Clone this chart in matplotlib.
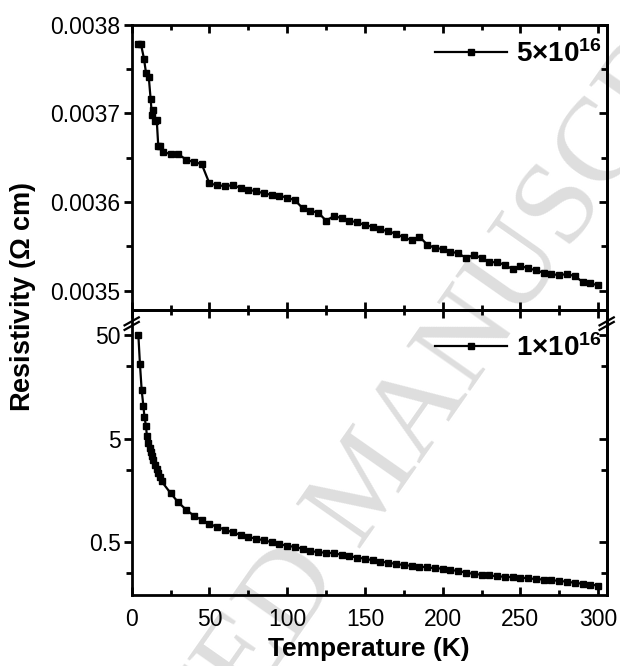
import matplotlib
matplotlib.use('Agg')
import matplotlib.pyplot as plt
from matplotlib.ticker import MultipleLocator, FixedLocator, FormatStrFormatter, NullFormatter

plt.rcParams['font.family'] = ['Liberation Sans', 'DejaVu Sans']
plt.rcParams['mathtext.fontset'] = 'custom'
plt.rcParams['mathtext.rm'] = 'Liberation Sans'
plt.rcParams['mathtext.bf'] = 'Liberation Sans:bold'

# 5x10^16 sample (linear scale, upper panel)
temp_hi = [4.3, 6.0, 7.9, 9.2, 11.0, 12.2, 13.0, 14.0, 15.0, 16.1, 17.1, 18.5, 19.9,
           25, 30, 35, 40, 45, 50, 55, 60, 65, 70, 75, 80, 85, 90, 95, 100,
           105, 110, 115, 120, 125, 130, 135, 140, 145, 150, 155, 160, 165, 170,
           175, 180, 185, 190, 195, 200, 205, 210, 215, 220, 225, 230, 235, 240,
           245, 250, 255, 260, 265, 270, 275, 280, 285, 290, 295, 300]
rho_hi = [0.003779, 0.003778, 0.003762, 0.003746, 0.003741, 0.003716, 0.003698,
          0.003704, 0.003691, 0.003693, 0.003663, 0.003663, 0.003657,
          0.003654, 0.003654, 0.003648, 0.003645, 0.003643, 0.003621, 0.003619,
          0.003618, 0.003619, 0.003616, 0.003614, 0.003612, 0.003610, 0.003608,
          0.003607, 0.003605, 0.003602, 0.003593, 0.003590, 0.003588, 0.003579,
          0.003584, 0.003582, 0.003579, 0.003577, 0.003574, 0.003572, 0.003569,
          0.003567, 0.003564, 0.003560, 0.003557, 0.003561, 0.003552, 0.003548,
          0.003547, 0.003544, 0.003542, 0.003537, 0.003540, 0.003537, 0.003532,
          0.003532, 0.003529, 0.003524, 0.003528, 0.003525, 0.003523, 0.003520,
          0.003519, 0.003517, 0.003519, 0.003516, 0.003510, 0.003508, 0.003506]

# 1x10^16 sample (log scale, lower panel)
temp_lo = [4.3, 5.3, 6.4, 7.5, 8.2, 9.2, 9.8, 10.7, 11.5, 12.2, 13.1, 13.9, 15.0,
           16.1, 17.1, 18.2, 19.3,
           25, 30, 35, 40, 45, 50, 55, 60, 65, 70, 75, 80, 85, 90, 95, 100,
           105, 110, 115, 120, 125, 130, 135, 140, 145, 150, 155, 160, 165, 170,
           175, 180, 185, 190, 195, 200, 205, 210, 215, 220, 225, 230, 235, 240,
           245, 250, 255, 260, 265, 270, 275, 280, 285, 290, 295, 300]
rho_lo = [50, 26.6, 14.9, 10.4, 8.2, 6.6, 5.3, 4.5, 4.06, 3.68, 3.37, 3.08, 2.80,
          2.55, 2.33, 2.11, 1.93,
          1.49, 1.21, 1.03, 0.90, 0.82, 0.75, 0.70, 0.66, 0.62, 0.59, 0.56, 0.54,
          0.52, 0.50, 0.48, 0.46, 0.45, 0.43, 0.41, 0.40, 0.395, 0.39, 0.378,
          0.366, 0.355, 0.345, 0.334, 0.324, 0.316, 0.308, 0.300, 0.295, 0.290,
          0.285, 0.280, 0.277, 0.270, 0.262, 0.254, 0.246, 0.242, 0.238, 0.234,
          0.231, 0.229, 0.227, 0.223, 0.220, 0.217, 0.214, 0.211, 0.207, 0.202,
          0.198, 0.194, 0.190]

fig = plt.figure(figsize=(6.2, 6.66), dpi=100)
ax1 = fig.add_axes([0.2124, 0.5345, 0.7661, 0.428])
ax2 = fig.add_axes([0.2124, 0.1066, 0.7661, 0.428], sharex=ax1)

# faint watermark behind everything
fig.text(0.598, 0.273, 'ACCEPTED MANUSCRIPT', family='Liberation Serif', fontsize=86,
         color='#dedede', rotation=55, ha='center', va='center', zorder=-5)

for ax in (ax1, ax2):
    ax.set_facecolor('none')
    for s in ax.spines.values():
        s.set_linewidth(2)
    ax.xaxis.set_major_locator(MultipleLocator(50))
    ax.xaxis.set_minor_locator(MultipleLocator(25))
    ax.tick_params(axis='x', which='both', direction='in', top=True, bottom=True, width=2)
    ax.tick_params(axis='x', which='major', length=6)
    ax.tick_params(axis='x', which='minor', length=3.5)
    ax.tick_params(axis='y', which='both', direction='out', right=False, width=2)
    ax.tick_params(axis='y', which='major', length=6, labelsize=16.5, pad=2)
    ax.tick_params(axis='y', which='minor', length=4)
    ax.set_xlim(0, 305.5)

ax1.plot(temp_hi, rho_hi, color='black', lw=1.6, marker='s', ms=5, label=r'$\mathbf{5{\times}10^{16}}$')
ax1.set_ylim(0.003478, 0.0038)
ax1.yaxis.set_major_locator(MultipleLocator(0.0001))
ax1.yaxis.set_minor_locator(MultipleLocator(0.00005))
ax1.yaxis.set_major_formatter(FormatStrFormatter('%.4f'))
ax1.tick_params(axis='x', labelbottom=False)

ax2.plot(temp_lo, rho_lo, color='black', lw=1.6, marker='s', ms=5, label=r'$\mathbf{1{\times}10^{16}}$')
ax2.set_yscale('log')
ax2.set_ylim(0.154, 88)
ax2.yaxis.set_major_locator(FixedLocator([0.5, 5, 50]))
ax2.yaxis.set_major_formatter(FormatStrFormatter('%g'))
ax2.yaxis.set_minor_locator(FixedLocator([0.25, 2.5, 25]))
ax2.yaxis.set_minor_formatter(NullFormatter())
ax2.tick_params(axis='x', labelsize=16.5, pad=9)

# inward ticks on the right spine
for ax in (ax1, ax2):
    twin = ax.secondary_yaxis('right')
    twin.spines['right'].set_linewidth(2)
    twin.tick_params(axis='y', which='both', direction='in', width=2, labelright=False)
    twin.tick_params(axis='y', which='major', length=6)
    twin.tick_params(axis='y', which='minor', length=4)
    if ax is ax1:
        twin.yaxis.set_major_locator(MultipleLocator(0.0001))
        twin.yaxis.set_minor_locator(MultipleLocator(0.00005))
    else:
        twin.yaxis.set_major_locator(FixedLocator([0.5, 5, 50]))
        twin.yaxis.set_minor_locator(FixedLocator([0.25, 2.5, 25]))
        twin.yaxis.set_minor_formatter(NullFormatter())

for ax, top in ((ax1, 0.985), (ax2, 0.955)):
    ax.legend(loc='upper right', bbox_to_anchor=(1.012, top), frameon=False,
              handlelength=2.6, handletextpad=0.3, borderaxespad=0.0,
              prop={'size': 20, 'weight': 'bold'})

# axis break marks on the lower panel
dx, dy = 0.015, 0.014
for xc in (0.0, 1.0):
    for yc in (0.944, 0.960):
        ax2.plot([xc - dx, xc + dx], [yc - dy, yc + dy], transform=ax2.transAxes,
                 color='black', lw=1.6, clip_on=False)

ax2.set_xlabel('Temperature (K)', fontsize=19, fontweight='bold', labelpad=5)
fig.text(0.037, 0.555, r'Resistivity ($\mathbf{\Omega}$ cm)', fontsize=19.5, fontweight='bold',
         rotation=90, ha='center', va='center')

fig.savefig('out.png', dpi=100)
